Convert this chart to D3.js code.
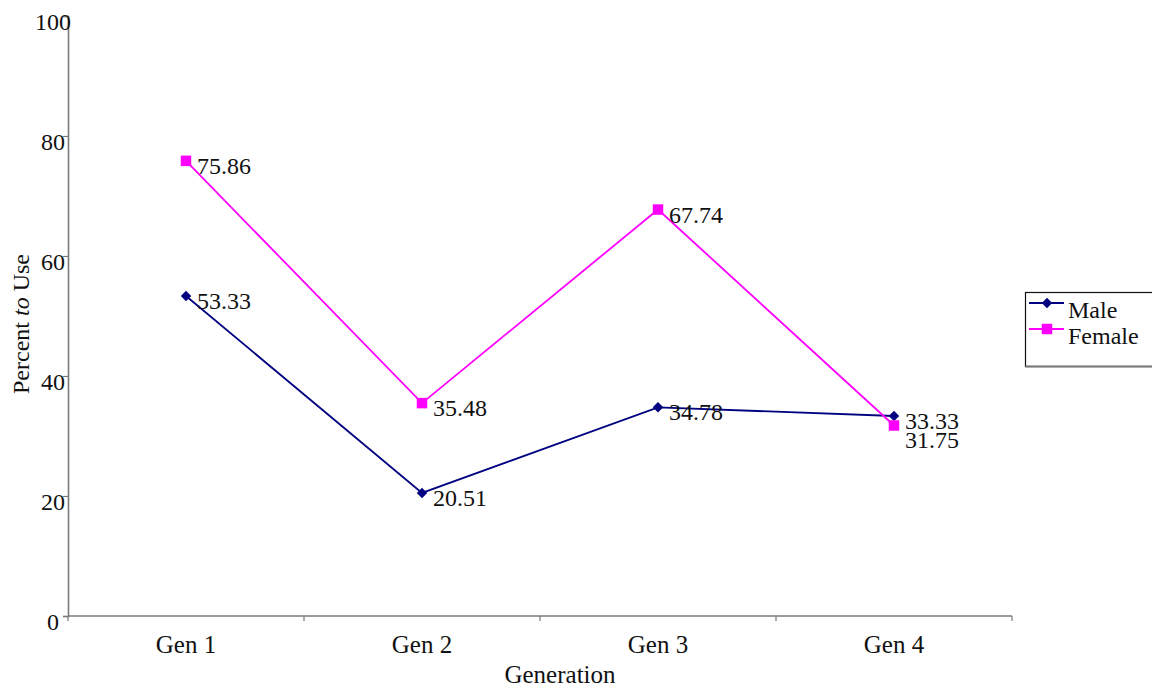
<!DOCTYPE html>
<html>
<head>
<meta charset="utf-8">
<script src="https://cdn.jsdelivr.net/npm/d3@7"></script>
<style>
  html, body { margin: 0; padding: 0; background: #fff; }
  svg { display: block; }
  svg text { font-family: "Liberation Serif", "DejaVu Serif", "Times New Roman", serif !important; fill: #111; }
</style>
</head>
<body>
<svg id="chart" width="1152" height="689"></svg>
<script>
// Share of each generation that uses it, by sex
const categories = ["Gen 1", "Gen 2", "Gen 3", "Gen 4"];
const maleValues = [53.33, 20.51, 34.78, 33.33];
const femaleValues = [75.86, 35.48, 67.74, 31.75];
const yTicks = [0, 20, 40, 60, 80, 100];

const series = [
  { name: "Male", values: maleValues, color: "#000080", marker: "diamond" },
  { name: "Female", values: femaleValues, color: "#FF00FF", marker: "square" }
];

const FONT = "Liberation Serif, DejaVu Serif, serif";
const svg = d3.select("#chart").attr("font-family", FONT);
const plot = { left: 68, right: 1012, top: 16, bottom: 616 };

const x = d3.scaleBand().domain(categories).range([plot.left, plot.right]).padding(0);
const y = d3.scaleLinear().domain([0, 100]).range([plot.bottom, plot.top]);
const axisColor = "#7a7a7a";

// X axis: ticks sit on the band boundaries
const xAxisG = svg.append("g").attr("transform", `translate(0,${plot.bottom})`);
xAxisG.append("line")
  .attr("x1", plot.left).attr("x2", plot.right)
  .attr("stroke", axisColor).attr("stroke-width", 1.6);
const bounds = categories.map(c => x(c)).concat([x(categories[categories.length - 1]) + x.bandwidth()]);
xAxisG.selectAll("line.tick").data(bounds).join("line")
  .attr("class", "tick")
  .attr("x1", d => d).attr("x2", d => d)
  .attr("y1", 0).attr("y2", 5)
  .attr("stroke", axisColor).attr("stroke-width", 1.2);
xAxisG.selectAll("text.cat").data(categories).join("text")
  .attr("class", "cat")
  .attr("x", d => x(d) + x.bandwidth() / 2)
  .attr("y", 37)
  .attr("text-anchor", "middle")
  .attr("font-size", 25)
  .text(d => d);

// Y axis
const yAxis = d3.axisLeft(y).tickValues(yTicks).tickSize(5).tickPadding(0).tickFormat(d3.format("d"));
const yAxisG = svg.append("g").attr("transform", `translate(${plot.left},0)`).call(yAxis)
  .attr("font-family", FONT);
yAxisG.select(".domain").attr("stroke", axisColor).attr("stroke-width", 1.6);
yAxisG.selectAll(".tick line").attr("stroke", axisColor).attr("stroke-width", 1.2);
yAxisG.selectAll(".tick text")
  .attr("font-size", 24)
  .attr("fill", "#111")
  .attr("text-anchor", "middle")
  .attr("x", -15)
  .attr("dy", "0.55em");

// Axis titles
svg.append("text")
  .attr("x", (plot.left + plot.right) / 2 + 20)
  .attr("y", 683)
  .attr("text-anchor", "middle")
  .attr("font-size", 25)
  .text("Generation");

const yTitle = svg.append("text")
  .attr("transform", `translate(29,324) rotate(-90)`)
  .attr("text-anchor", "middle")
  .attr("font-size", 24);
yTitle.append("tspan").text("Percent ");
yTitle.append("tspan").attr("font-style", "italic").text("to");
yTitle.append("tspan").text(" Use");

// Marker shapes
const symbolFor = m => m === "diamond"
  ? d3.symbol().type(d3.symbolDiamond2).size(70)
  : d3.symbol().type(d3.symbolSquare).size(110);

const cx = c => x(c) + x.bandwidth() / 2;
const line = d3.line().x(d => cx(d.cat)).y(d => y(d.v));

// Label positions, nudged apart where two labels of one category would overlap
const labelY = {};
categories.forEach((c, i) => {
  const items = series.map((s, si) => ({ si, py: y(s.values[i]) + 13 }))
    .sort((a, b) => a.py - b.py);
  for (let k = 1; k < items.length; k++) {
    if (items[k].py - items[k - 1].py < 19) items[k].py = items[k - 1].py + 19;
  }
  items.forEach(it => { labelY[it.si + "_" + i] = it.py; });
});

series.forEach((s, si) => {
  const pts = categories.map((c, i) => ({ cat: c, v: s.values[i], i }));
  const g = svg.append("g");
  g.append("path").datum(pts)
    .attr("d", line)
    .attr("fill", "none")
    .attr("stroke", s.color)
    .attr("stroke-width", 1.8);
  g.selectAll("path.mk").data(pts).join("path")
    .attr("class", "mk")
    .attr("d", symbolFor(s.marker))
    .attr("transform", d => `translate(${cx(d.cat)},${y(d.v)})`)
    .attr("fill", s.color);
  g.selectAll("text.lbl").data(pts).join("text")
    .attr("class", "lbl")
    .attr("x", d => cx(d.cat) + 11)
    .attr("y", d => labelY[si + "_" + d.i])
    .attr("font-size", 24)
    .text(d => d.v.toFixed(2));
});

// Legend
const legend = svg.append("g").attr("transform", "translate(1024,291)");
legend.append("rect")
  .attr("x", 1.5).attr("y", 1.5).attr("width", 140).attr("height", 74)
  .attr("fill", "#fff").attr("stroke", "#111").attr("stroke-width", 1.2);
legend.append("line")
  .attr("x1", 1.5).attr("x2", 141).attr("y1", 75.5).attr("y2", 75.5)
  .attr("stroke", "#7a7a7a").attr("stroke-width", 2);
series.forEach((s, i) => {
  const ly = 12 + i * 26;
  legend.append("line")
    .attr("x1", 5).attr("x2", 40).attr("y1", ly).attr("y2", ly)
    .attr("stroke", s.color).attr("stroke-width", 1.8);
  legend.append("path")
    .attr("d", symbolFor(s.marker))
    .attr("transform", `translate(23,${ly})`)
    .attr("fill", s.color);
  legend.append("text")
    .attr("x", 44).attr("y", ly + 15)
    .attr("font-size", 24)
    .text(s.name);
});
</script>
</body>
</html>
